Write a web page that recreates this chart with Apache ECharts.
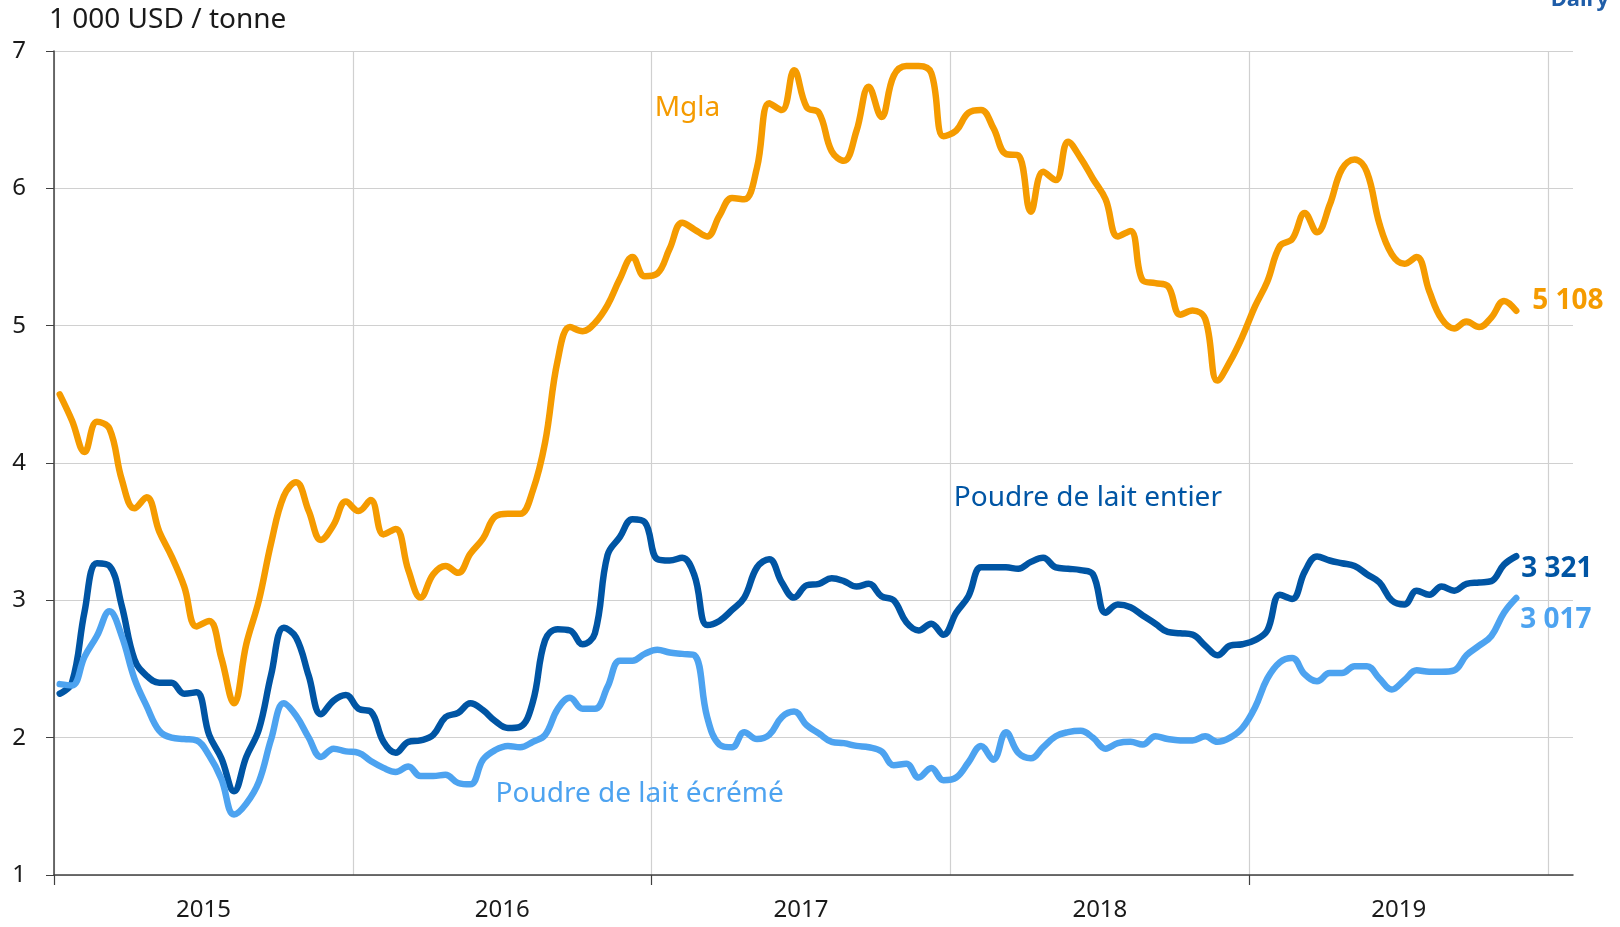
<!DOCTYPE html>
<html>
<head>
<meta charset="utf-8">
<title>Prix des produits laitiers</title>
<script src="https://cdn.jsdelivr.net/npm/echarts@6/dist/echarts.min.js"></script>
<style>html,body{margin:0;padding:0;background:#fff}</style>
</head>
<body>
<div id="main" style="width:1620px;height:927px"></div>
<script>
// séries et libellés
const seriesNames = ['Mgla', 'Poudre de lait entier', 'Poudre de lait écrémé'];
const yearLabels = ['2015', '2016', '2017', '2018', '2019'];
const endLabels = ['5 108', '3 321', '3 017'];

// 1 000 USD / tonne, deux relevés par mois (janv. 2015 - nov. 2019)
const mgla = [
  4.50, 4.31, 4.08, 4.30, 4.25, 3.88, 3.67, 3.75, 3.50, 3.32,
  3.10, 2.81, 2.85, 2.58, 2.25, 2.68, 3.00, 3.42, 3.76, 3.86,
  3.65, 3.44, 3.55, 3.72, 3.65, 3.73, 3.48, 3.52, 3.22, 3.02,
  3.19, 3.25, 3.20, 3.34, 3.45, 3.61, 3.63, 3.63, 3.80, 4.15,
  4.75, 4.99, 4.96, 5.02, 5.15, 5.34, 5.50, 5.36, 5.38, 5.56,
  5.75, 5.70, 5.65, 5.80, 5.93, 5.92, 6.15, 6.62, 6.57, 6.86,
  6.59, 6.55, 6.27, 6.20, 6.42, 6.74, 6.52, 6.82, 6.89, 6.89,
  6.84, 6.38, 6.42, 6.55, 6.57, 6.44, 6.25, 6.24, 5.83, 6.12,
  6.06, 6.34, 6.22, 6.07, 5.92, 5.65, 5.69, 5.33, 5.31, 5.29,
  5.08, 5.11, 5.05, 4.60, 4.74, 4.92, 5.14, 5.32, 5.58, 5.63,
  5.82, 5.68, 5.88, 6.14, 6.21, 6.12, 5.74, 5.52, 5.45, 5.50,
  5.25, 5.05, 4.98, 5.03, 4.99, 5.06, 5.18, 5.108
];
const entier = [
  2.32, 2.40, 2.92, 3.27, 3.25, 2.96, 2.57, 2.45, 2.40, 2.40,
  2.32, 2.33, 2.02, 1.85, 1.61, 1.86, 2.06, 2.46, 2.80, 2.73,
  2.45, 2.17, 2.27, 2.31, 2.21, 2.19, 1.97, 1.89, 1.97, 1.98,
  2.02, 2.15, 2.18, 2.25, 2.20, 2.12, 2.07, 2.08, 2.26, 2.71,
  2.79, 2.78, 2.68, 2.76, 3.33, 3.46, 3.59, 3.57, 3.30, 3.29,
  3.31, 3.18, 2.82, 2.85, 2.93, 3.02, 3.24, 3.30, 3.13, 3.02,
  3.11, 3.12, 3.16, 3.14, 3.10, 3.12, 3.03, 3.00, 2.84, 2.78,
  2.83, 2.75, 2.91, 3.03, 3.24, 3.24, 3.24, 3.23, 3.28, 3.31,
  3.24, 3.23, 3.22, 3.19, 2.91, 2.97, 2.95, 2.89, 2.83, 2.77,
  2.76, 2.75, 2.67, 2.60, 2.67, 2.68, 2.71, 2.78, 3.04, 3.01,
  3.21, 3.32, 3.29, 3.27, 3.25, 3.19, 3.13, 3.00, 2.97, 3.07,
  3.04, 3.10, 3.07, 3.12, 3.13, 3.14, 3.26, 3.321
];
const ecreme = [
  2.39, 2.38, 2.59, 2.74, 2.92, 2.74, 2.43, 2.23, 2.05, 2.00,
  1.99, 1.98, 1.87, 1.70, 1.44, 1.52, 1.68, 1.99, 2.25, 2.16,
  2.00, 1.86, 1.92, 1.90, 1.89, 1.83, 1.78, 1.75, 1.79, 1.72,
  1.72, 1.73, 1.67, 1.66, 1.84, 1.91, 1.94, 1.93, 1.97, 2.02,
  2.21, 2.29, 2.21, 2.21, 2.37, 2.56, 2.56, 2.61, 2.64, 2.62,
  2.61, 2.60, 2.15, 1.95, 1.93, 2.04, 1.99, 2.02, 2.15, 2.19,
  2.09, 2.03, 1.97, 1.96, 1.94, 1.93, 1.90, 1.80, 1.81, 1.71,
  1.78, 1.69, 1.71, 1.82, 1.94, 1.84, 2.04, 1.89, 1.85, 1.93,
  2.01, 2.04, 2.05, 2.00, 1.92, 1.96, 1.97, 1.95, 2.01, 1.99,
  1.98, 1.98, 2.01, 1.97, 2.00, 2.07, 2.22, 2.43, 2.55, 2.58,
  2.46, 2.41, 2.47, 2.47, 2.52, 2.52, 2.43, 2.35, 2.42, 2.49,
  2.48, 2.48, 2.49, 2.60, 2.67, 2.74, 2.91, 3.017
];

// dates des relevés : le 8 et le 23 de chaque mois
const dates = [];
for (let y = 2015; y <= 2019; y++) {
  for (let m = 1; m <= 12; m++) {
    if (y === 2019 && m > 11) break;
    const mm = String(m).padStart(2, '0');
    dates.push(y + '-' + mm + '-08', y + '-' + mm + '-23');
  }
}
function toYear(d) {
  const p = d.split('-').map(Number);
  return p[0] + (p[1] - 1 + (p[2] - 1) / 30.5) / 12;
}

// emplacement des noms de séries (année, valeur)
const nameAnchors = [[2017.12, 6.585], [2018.46, 3.745], [2016.96, 1.59]];
const colors = ['#F59B00', '#0055A4', '#4DA3F0'];
const endOffsets = [[16, -10], [5, 13], [4, 22]];
const font = 'Noto Sans';
const yearPx = (1620 - 54 - 47) / (5 + 1 / 12);

const chart = echarts.init(document.getElementById('main'));

const series = [mgla, entier, ecreme].map(function (vals, i) {
  return {
    name: seriesNames[i],
    type: 'line',
    data: dates.map(function (d, j) { return [toYear(d), vals[j]]; }),
    showSymbol: false,
    smooth: 0.4,
    lineStyle: { width: 6.5, color: colors[i], cap: 'round' },
    itemStyle: { color: colors[i] },
    endLabel: {
      show: true,
      formatter: endLabels[i],
      distance: 0,
      offset: endOffsets[i],
      color: colors[i],
      fontFamily: font,
      fontSize: 28,
      fontWeight: 'bold'
    },
    markPoint: {
      silent: true,
      symbol: 'circle',
      symbolSize: 0,
      data: [{ coord: nameAnchors[i], value: 0 }],
      label: {
        show: true,
        position: 'inside',
        formatter: seriesNames[i],
        color: colors[i],
        fontFamily: font,
        fontSize: 28
      }
    }
  };
});

chart.setOption({
  animation: false,
  backgroundColor: '#fff',
  title: [
    {
      text: '1 000 USD / tonne',
      left: 44,
      top: 1,
      textStyle: { fontFamily: font, fontSize: 28, fontWeight: 'normal', color: '#1a1a1a' }
    },
    {
      text: 'Dairy',
      right: 6,
      top: -16,
      textStyle: { fontFamily: font, fontSize: 22, fontWeight: 'bold', color: '#1F5DA8' }
    }
  ],
  grid: [
    { left: 54, right: 47, top: 51, bottom: 52 },
    // grille fantôme (2015-2019) pour les graduations tous les deux ans
    { left: 54, width: yearPx * 4, top: 51, bottom: 52 }
  ],
  xAxis: [
    {
      type: 'value',
      min: 2015,
      max: 2020 + 1 / 12,
      interval: 0.5,
      axisLine: { lineStyle: { color: '#404040', width: 1.5 } },
      axisTick: { show: false },
      axisLabel: {
        margin: 23,
        fontFamily: font,
        fontSize: 24,
        color: '#1a1a1a',
        formatter: function (v) {
          const f = v - Math.floor(v);
          return Math.abs(f - 0.5) < 1e-6 ? yearLabels[Math.floor(v) - 2015] : '';
        }
      },
      splitLine: {
        show: true,
        showMaxLine: false,
        lineStyle: { color: ['#D0D0D0', 'rgba(0,0,0,0)'], width: 1.2 }
      }
    },
    {
      type: 'value',
      gridIndex: 1,
      min: 2015,
      max: 2019,
      interval: 2,
      axisLine: { show: false },
      axisTick: { show: true, length: 10, lineStyle: { color: '#404040', width: 1.2 } },
      axisLabel: { show: false },
      splitLine: { show: false }
    }
  ],
  yAxis: [
    {
      type: 'value',
      min: 1,
      max: 7,
      interval: 1,
      axisLine: { show: true, lineStyle: { color: '#404040', width: 1.5 } },
      axisTick: { show: true, length: 8, lineStyle: { color: '#404040' } },
      axisLabel: { margin: 28, fontFamily: font, fontSize: 24, color: '#1a1a1a' },
      splitLine: { lineStyle: { color: '#D0D0D0', width: 1.2 } }
    },
    { type: 'value', gridIndex: 1, show: false, min: 1, max: 7 }
  ],
  series: series
});
</script>
</body>
</html>
